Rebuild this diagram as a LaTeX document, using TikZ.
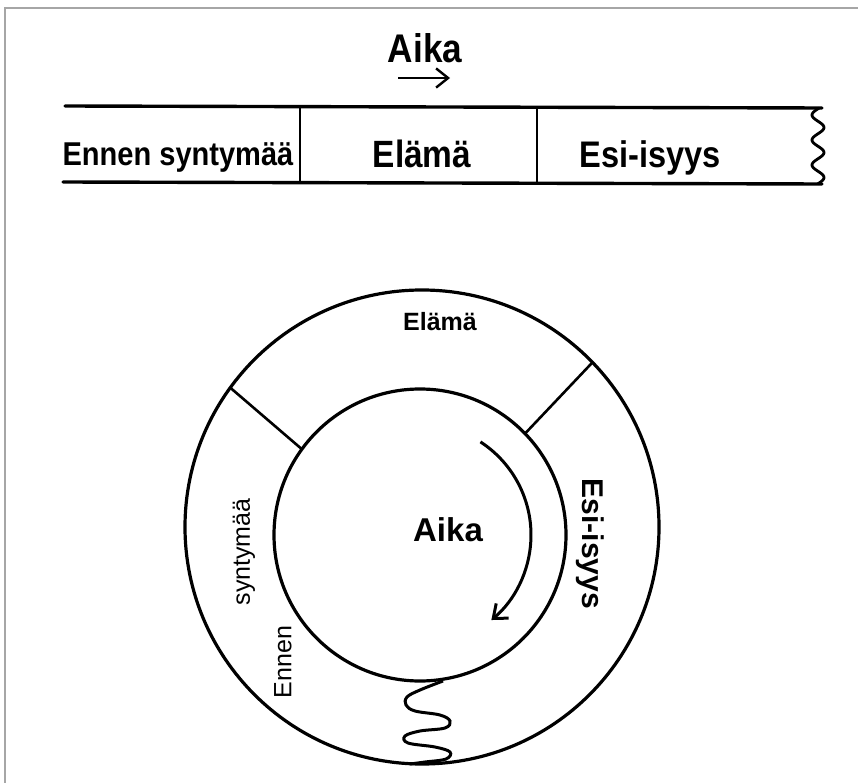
\documentclass[tikz,border=0pt]{standalone}
\usepackage{fontspec}
\setmainfont{Liberation Sans}
\usetikzlibrary{arrows.meta, calc}
\tikzset{band/.style={line width=3.4pt, line cap=round}}
\tikzset{sep/.style={line width=2.4pt}}
\tikzset{ring/.style={line width=3.2pt}}
\tikzset{strip/.style={font=\bfseries\fontsize{#1}{#1}\selectfont, xscale=.88, inner sep=0pt}}
\tikzset{ringtext/.style={font=\fontsize{#1}{#1}\selectfont, inner sep=0pt}}
\tikzset{barb/.style={-{Straight Barb[length=#1, width=1.6*#1]}}}

\begin{document}
\begin{tikzpicture}[x=1pt, y=-1pt]
\useasboundingbox (0,0) rectangle (858,783);
% frame
\draw[gray!70, line width=1.5pt] (5,783) -- (5,8) -- (858,8);

% time strip
\coordinate (tl) at (65,106);
\coordinate (tr) at (822,108);
\coordinate (bl) at (63,182);
\coordinate (br) at (822,184);
\draw[band] (tl) -- (tr);
\draw[band] (bl) -- (br);
\draw[sep] (300,106) -- (300,182);
\draw[sep] (537,107) -- (537,183);
\draw[line width=2.8pt] plot[domain=108:184, samples=80, smooth] ({818-6*cos(14.4*(\x-115))}, \x);

\node[strip=40, anchor=base] (aika1) at (425,63) {Aika};
\coordinate (a1) at (398,78);
\coordinate (a2) at (450,78);
\draw[line width=2.4pt, barb=12pt] (a1) -- (a2);

\node[strip=33] (ennen1) at (178,158) {Ennen syntymää};
\node[strip=38] (elama1) at (422,154) {Elämä};
\node[strip=37] (esi1) at (650,158) {Esi-isyys};

% ring
\coordinate (oc) at (422,527);
\coordinate (ic) at (420,535);
\draw[ring] (oc) circle[radius=237];
\draw[ring] (ic) circle[radius=146];
\draw[sep, line width=2.6pt] ($(ic)+(216:146)$) -- ($(oc)+(216:237)$);
\draw[sep, line width=2.6pt] ($(ic)+(316:146)$) -- ($(oc)+(316:237)$);

\draw[line width=3pt, barb=12pt] (ic) ++(-57:111) arc[start angle=-57, end angle=50, radius=111];

\draw[line width=3pt] plot[smooth, tension=0.6] coordinates {(443,681) (420,690) (407,697) (406,705) (415,711) (440,715) (450,721) (445,728) (420,731) (405,736) (408,743) (435,747) (450,752) (446,759) (425,762) (410,764)};

\node[ringtext=25, font=\bfseries\fontsize{25}{25}\selectfont] (elama2) at (440,322) {Elämä};
\node[ringtext=33, font=\bfseries\fontsize{33}{33}\selectfont] (aika2) at (448,530) {Aika};
\node[ringtext=30, font=\bfseries\fontsize{30}{30}\selectfont, rotate=-90] (esi2) at (590,544) {Esi-isyys};
\node[ringtext=25, rotate=90] (synt2) at (244,552) {syntymää};
\node[ringtext=25, rotate=90] (ennen2) at (283,662) {Ennen};
\end{tikzpicture}
\end{document}
